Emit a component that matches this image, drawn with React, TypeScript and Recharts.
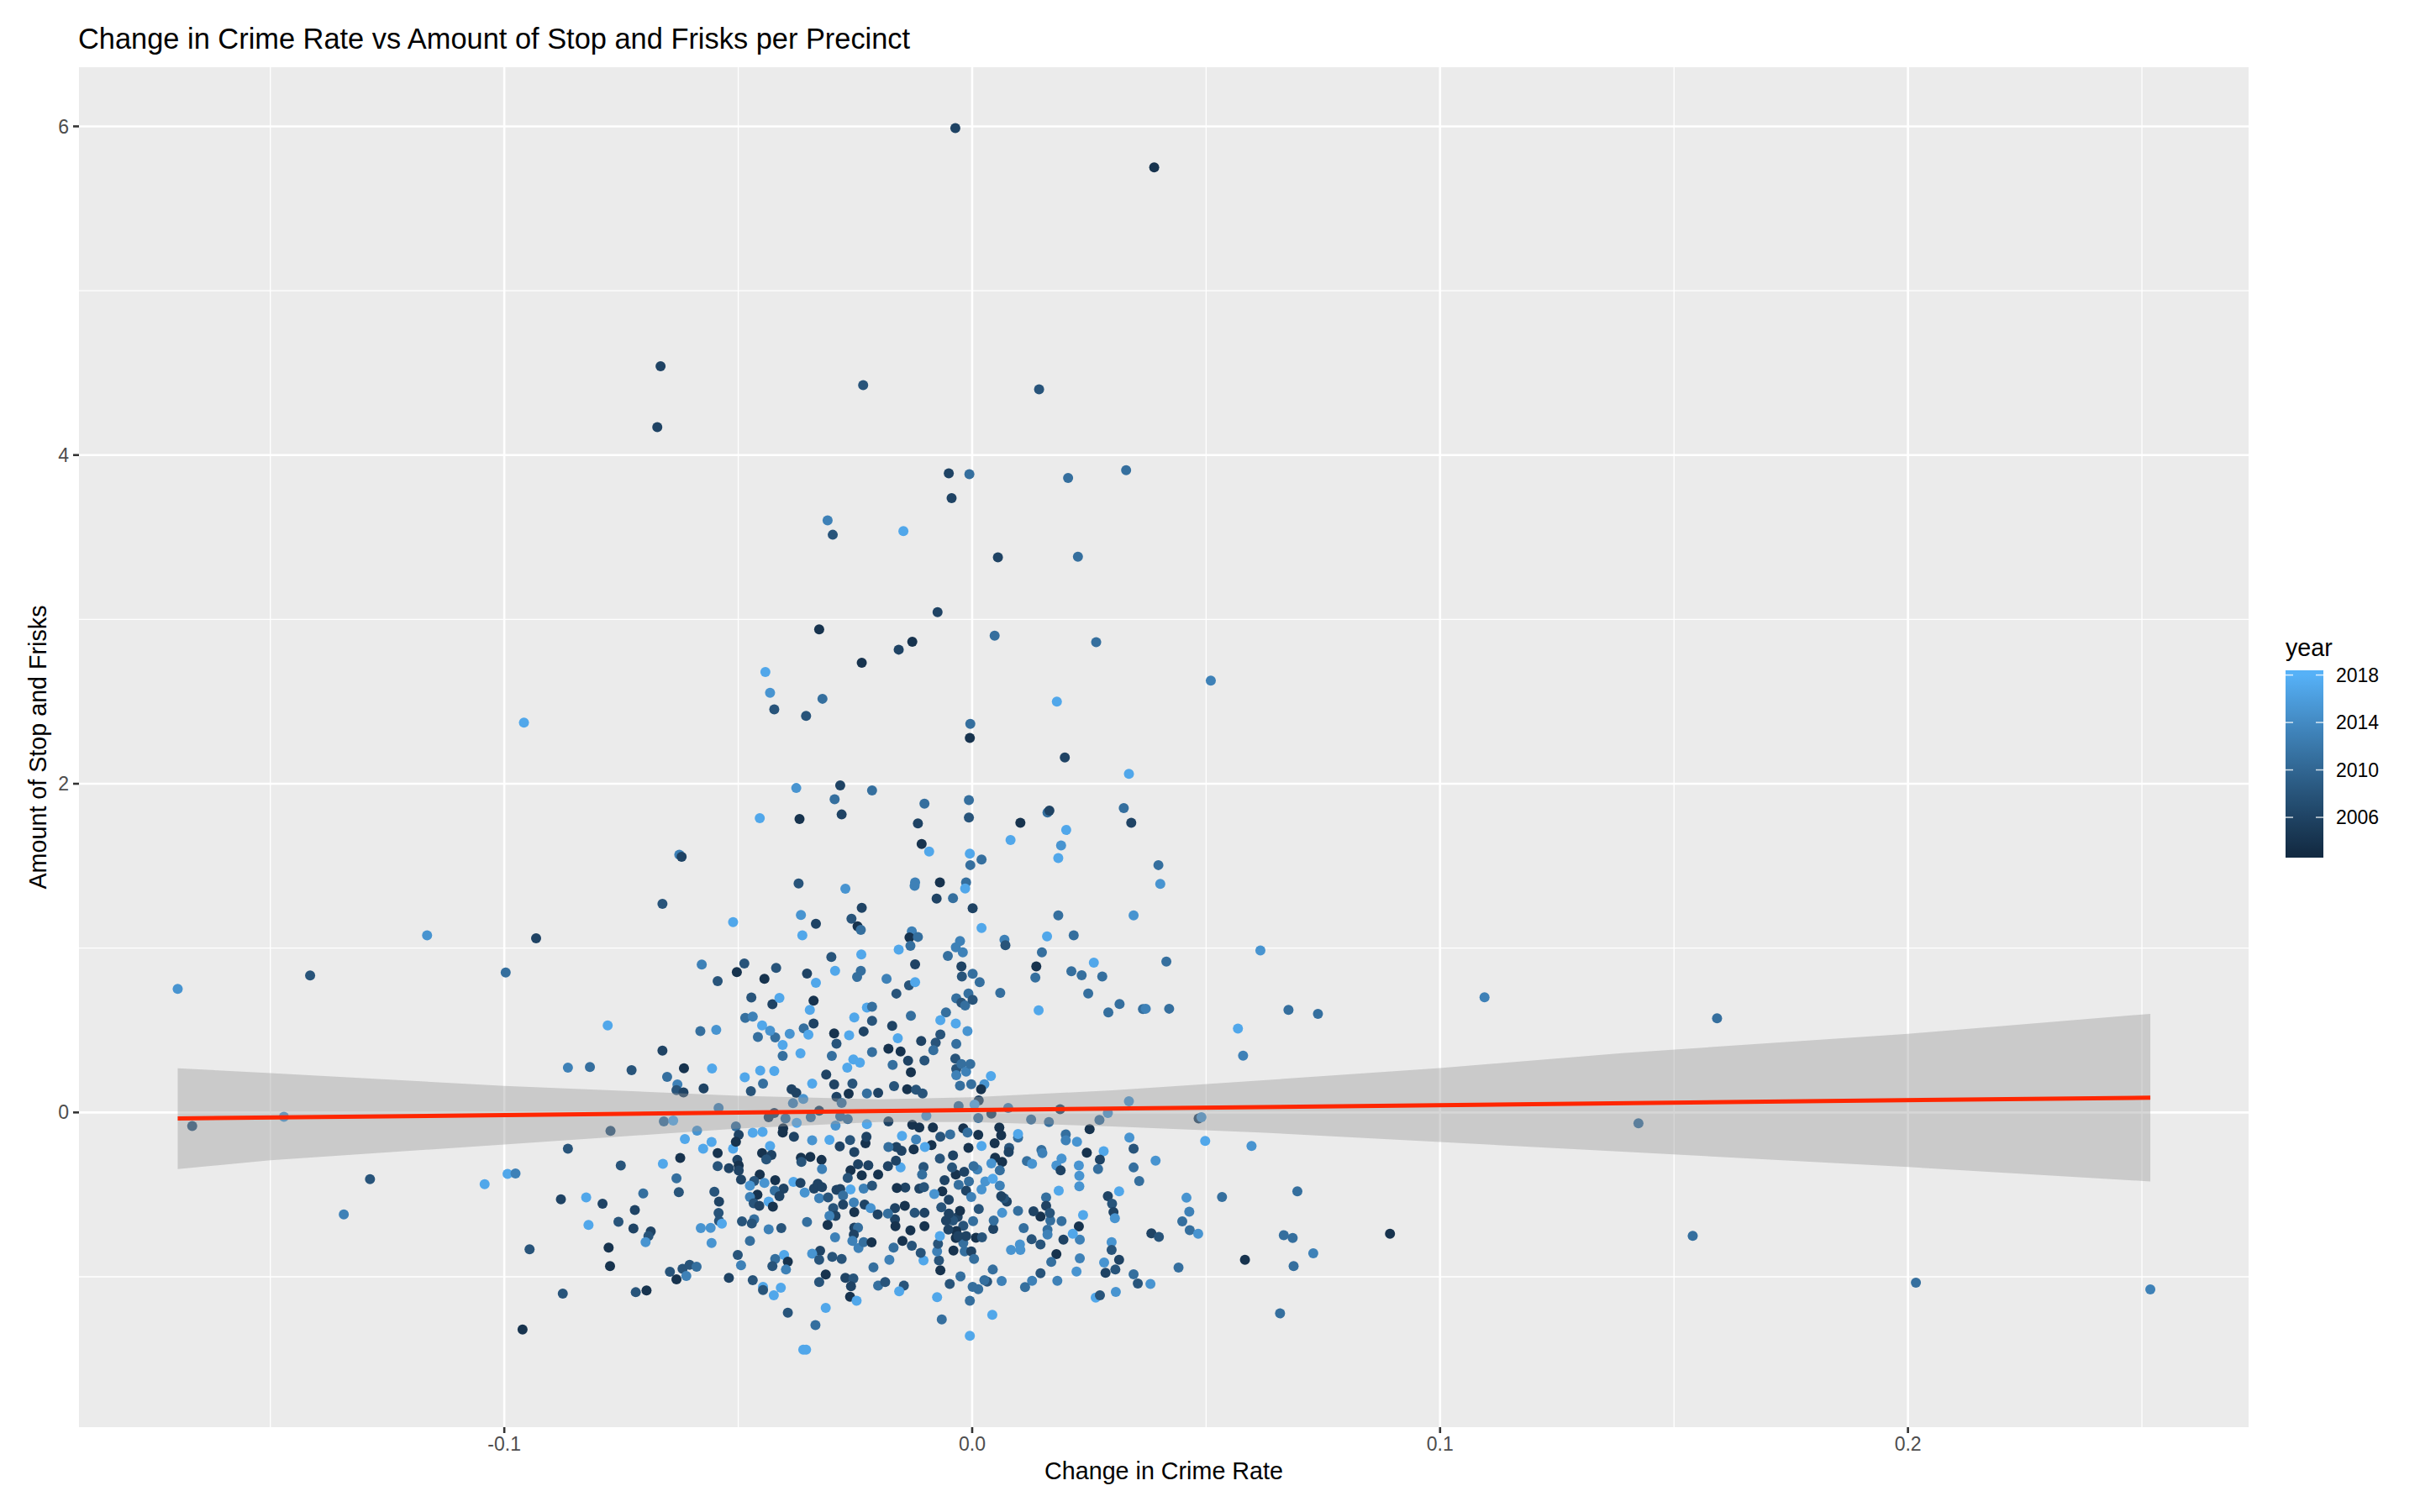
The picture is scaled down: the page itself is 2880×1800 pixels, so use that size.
import React from 'react';
import { ComposedChart, Scatter, Area, Line, XAxis, YAxis, CartesianGrid } from 'recharts';

const FONT = '"Liberation Sans", Arial, Helvetica, sans-serif';

const xTicks = [-0.1, 0, 0.1, 0.2];
const xMinor = [-0.15, -0.05, 0.05, 0.15, 0.25];
const yTicks = [0, 2, 4, 6];
const yMinor = [-1, 1, 3, 5];
const xDomain = [-0.1909, 0.2728];
const yDomain = [-1.915, 6.36];
const yearTicks = [2006, 2010, 2014, 2018];
const yearRange = [2003, 2018];

// [change in crime rate, amount of stop and frisks, year]
const points: [number, number, number][] = [
  [-0.0036,5.99,2006],[0.0389,5.75,2004],[-0.0666,4.54,2006],[-0.0673,4.17,2006],[-0.0233,4.425,2008],[0.0143,4.40,2008],
  [-0.0050,3.889,2006],[-0.0006,3.884,2011],[-0.0044,3.738,2006],[0.0205,3.861,2011],[0.0329,3.908,2011],[-0.0309,3.602,2013],
  [-0.0298,3.515,2008],[-0.0147,3.537,2017],[0.0055,3.378,2006],[0.0226,3.381,2011],[-0.0074,3.044,2006],
  [-0.0157,2.816,2006],[-0.0128,2.864,2004],[0.0048,2.901,2011],[0.0265,2.861,2011],[0.0510,2.628,2013],[0.0181,2.500,2017],
  [-0.0004,2.364,2011],[-0.0005,2.279,2004],[0.0198,2.160,2006],[0.0335,2.060,2017],[-0.0102,1.879,2011],[-0.0007,1.901,2011],
  [-0.0007,1.794,2008],[-0.0116,1.759,2006],[-0.0108,1.634,2004],[-0.0092,1.587,2017],[-0.0005,1.575,2017],[-0.0004,1.505,2011],
  [0.0020,1.539,2011],[0.0082,1.658,2017],[0.0103,1.762,2004],[0.0161,1.825,2011],[0.0165,1.837,2006],[0.0201,1.719,2017],
  [0.0190,1.624,2015],[0.0184,1.548,2017],[0.0324,1.852,2011],[0.0340,1.762,2006],[0.0398,1.505,2011],[0.0402,1.391,2015],
  [0.0345,1.199,2015],[0.0184,1.199,2011],[0.0217,1.077,2011],[0.0160,1.071,2017],[0.0020,1.122,2017],[0.0069,1.051,2013],
  [0.0071,1.017,2008],[0.0149,0.974,2011],[0.0137,0.889,2004],[0.0135,0.821,2011],[0.0212,0.859,2011],[0.0234,0.835,2011],
  [0.0278,0.827,2011],[0.0260,0.912,2017],[0.0415,0.918,2011],[0.0616,0.986,2015],[-0.0122,1.400,2013],[-0.0123,1.379,2013],
  [-0.0069,1.400,2004],[-0.0013,1.400,2011],[-0.0015,1.362,2017],[-0.0076,1.301,2006],[-0.0041,1.304,2011],[0.0001,1.243,2006],
  [-0.0129,1.102,2013],[-0.0134,1.065,2004],[-0.0116,1.068,2011],[-0.0157,0.991,2017],[-0.0132,1.014,2011],[-0.0026,1.043,2013],
  [-0.0035,1.005,2013],[-0.0020,0.974,2013],[-0.0052,0.952,2011],[-0.0122,0.901,2006],[-0.0023,0.889,2006],[-0.0183,0.813,2013],
  [-0.0135,0.774,2008],[-0.0122,0.793,2017],[-0.0022,0.827,2008],[0.0001,0.844,2011],[0.0016,0.793,2011],
  [-0.0958,2.372,2017],[-0.0327,2.939,2004],[-0.0236,2.736,2004],[-0.0442,2.680,2017],[-0.0432,2.554,2015],[-0.0423,2.452,2008],
  [-0.0355,2.413,2008],[-0.0320,2.517,2011],[-0.0376,1.974,2015],[-0.0282,1.990,2006],[-0.0214,1.959,2011],[-0.0294,1.906,2011],
  [-0.0279,1.813,2006],[-0.0454,1.791,2017],[-0.0369,1.786,2004],[-0.0626,1.568,2013],[-0.0621,1.556,2006],[-0.0371,1.393,2008],
  [-0.0271,1.361,2015],[-0.0662,1.269,2008],[-0.0511,1.158,2017],[-0.0366,1.202,2015],[-0.0236,1.245,2006],[-0.0334,1.148,2006],
  [-0.0258,1.179,2008],[-0.0245,1.133,2004],[-0.0238,1.111,2011],[-0.0363,1.077,2017],[-0.0932,1.060,2006],[-0.0301,0.946,2008],
  [-0.0237,0.961,2017],[-0.0578,0.900,2013],[-0.0544,0.799,2008],[-0.0503,0.854,2004],[-0.0487,0.906,2008],[-0.0444,0.813,2004],
  [-0.0419,0.879,2008],[-0.0353,0.845,2006],[-0.0334,0.789,2017],[-0.0293,0.862,2017],[-0.0238,0.862,2011],[-0.0246,0.825,2011],
  [-0.0997,0.852,2011],
  [-0.0779,0.529,2017],[-0.0864,0.272,2013],[-0.0817,0.276,2011],[-0.0728,0.257,2008],[-0.0662,0.376,2006],[-0.0616,0.269,2004],
  [-0.0556,0.267,2017],[-0.0581,0.495,2011],[-0.0547,0.502,2015],[-0.0652,0.216,2011],[-0.0630,0.170,2013],[-0.0632,0.136,2008],
  [-0.0617,0.122,2006],[-0.0574,0.146,2006],[-0.0542,0.027,2013],[-0.0659,-0.054,2011],[-0.0639,-0.049,2017],[-0.0773,-0.112,2008],
  [-0.0588,-0.111,2015],[-0.0614,-0.162,2017],[-0.0557,-0.180,2017],[-0.0575,-0.221,2017],[-0.0864,-0.221,2008],[-0.0661,-0.313,2017],
  [-0.0624,-0.277,2004],[-0.0751,-0.323,2008],[-0.0993,-0.374,2017],[-0.0976,-0.371,2013],[-0.0632,-0.401,2011],[-0.0627,-0.485,2008],
  [-0.0703,-0.493,2011],[-0.0879,-0.529,2006],[-0.0825,-0.517,2017],[-0.0790,-0.556,2006],[-0.0721,-0.594,2006],[-0.0756,-0.665,2008],
  [-0.0724,-0.706,2006],[-0.0820,-0.684,2017],[-0.0946,-0.833,2008],[-0.0777,-0.823,2004],[-0.0774,-0.935,2004],[-0.0687,-0.724,2006],
  [-0.0692,-0.752,2008],[-0.0698,-0.789,2015],[-0.0875,-1.102,2008],[-0.0961,-1.321,2004],[-0.0719,-1.094,2008],[-0.0696,-1.083,2004],
  [-0.0646,-0.969,2008],[-0.0632,-1.015,2004],[-0.0619,-0.951,2008],[-0.0611,-0.995,2013],[-0.0604,-0.927,2008],[-0.0589,-0.939,2011],
  [-0.0544,-0.247,2004],[-0.0544,-0.327,2008],[-0.0551,-0.483,2008],[-0.0541,-0.543,2006],[-0.0542,-0.612,2008],[-0.0541,-0.660,2008],
  [-0.0535,-0.677,2017],[-0.0580,-0.704,2015],[-0.0559,-0.702,2015],[-0.0557,-0.794,2015],[-0.0511,-0.221,2017],[-0.0505,-0.085,2011],
  [-0.0499,-0.136,2006],[-0.0505,-0.179,2004],[-0.0520,-0.340,2006],[-0.0502,-0.289,2006],[-0.0499,-0.323,2004],[-0.0499,-0.354,2006],
  [-0.0494,-0.408,2006],[-0.0492,-0.663,2008],[-0.0475,-0.782,2011],[-0.0501,-0.867,2008],[-0.0494,-0.930,2013],[-0.0520,-1.007,2006],
  [-0.0469,-1.020,2008],[-0.0472,0.699,2008],[-0.0427,0.658,2006],[-0.0412,0.697,2017],[-0.0485,0.575,2011],[-0.0469,0.583,2013],
  [-0.0449,0.529,2017],[-0.0458,0.459,2011],[-0.0421,0.456,2011],[-0.0432,0.497,2015],[-0.0405,0.410,2017],[-0.0390,0.478,2015],
  [-0.0405,0.344,2011],[-0.0367,0.359,2017],[-0.0360,0.512,2011],[-0.0350,0.473,2017],[-0.0347,0.624,2017],[-0.0339,0.680,2004],
  [-0.0339,0.541,2006],[-0.0295,0.481,2004],[-0.0290,0.418,2008],[-0.0300,0.344,2011],[-0.0263,0.469,2017],[-0.0252,0.578,2017],
  [-0.0225,0.638,2017],[-0.0214,0.643,2011],[-0.0214,0.558,2008],[-0.0232,0.493,2006],[-0.0254,0.323,2017],[-0.0240,0.303,2017],
  [-0.0267,0.272,2017],[-0.0214,0.367,2011],[-0.0486,0.214,2017],[-0.0453,0.255,2017],[-0.0423,0.252,2017],[-0.0447,0.175,2011],
  [-0.0473,0.129,2008],[-0.0312,0.230,2006],[-0.0295,0.170,2006],[-0.0342,0.175,2017],[-0.0256,0.175,2008],[-0.0264,0.114,2004],
  [-0.0290,0.095,2006],[-0.0386,0.141,2006],[-0.0376,0.119,2006],[-0.0361,0.082,2015],[-0.0383,0.056,2013],[-0.0225,0.116,2011],
  [-0.0201,0.119,2006],[-0.0279,0.058,2011],[-0.0423,-0.003,2006],[-0.0435,-0.029,2006],[-0.0399,-0.037,2011],[-0.0375,-0.063,2017],
  [-0.0345,-0.029,2011],[-0.0327,0.010,2006],[-0.0282,-0.024,2011],[-0.0266,-0.041,2011],[-0.0292,-0.080,2015],[-0.0225,-0.071,2017],
  [-0.0469,-0.124,2017],[-0.0448,-0.119,2017],[-0.0404,-0.097,2004],[-0.0405,-0.122,2004],[-0.0381,-0.148,2006],[-0.0342,-0.170,2015],
  [-0.0305,-0.167,2017],[-0.0283,-0.207,2006],[-0.0261,-0.168,2008],[-0.0228,-0.187,2004],[-0.0226,-0.148,2006],[-0.0252,-0.241,2006],
  [-0.0432,-0.204,2017],[-0.0449,-0.247,2004],[-0.0429,-0.259,2006],[-0.0440,-0.286,2008],[-0.0366,-0.276,2004],[-0.0346,-0.270,2004],
  [-0.0365,-0.301,2008],[-0.0322,-0.289,2004],[-0.0321,-0.345,2013],[-0.0260,-0.352,2004],[-0.0244,-0.315,2006],[-0.0222,-0.321,2006],
  [-0.0236,-0.383,2004],[-0.0266,-0.398,2008],[-0.0201,-0.378,2004],[-0.0454,-0.378,2004],[-0.0466,-0.417,2008],[-0.0475,-0.446,2015],
  [-0.0444,-0.429,2015],[-0.0421,-0.412,2004],[-0.0403,-0.463,2006],[-0.0422,-0.476,2011],[-0.0412,-0.510,2006],[-0.0382,-0.423,2017],
  [-0.0367,-0.429,2006],[-0.0358,-0.488,2015],[-0.0338,-0.463,2006],[-0.0330,-0.434,2006],[-0.0321,-0.454,2006],[-0.0327,-0.522,2013],
  [-0.0308,-0.517,2008],[-0.0290,-0.471,2006],[-0.0282,-0.466,2006],[-0.0260,-0.468,2017],[-0.0276,-0.505,2011],[-0.0232,-0.463,2013],
  [-0.0214,-0.446,2008],[-0.0459,-0.500,2004],[-0.0475,-0.514,2013],[-0.0467,-0.553,2008],[-0.0455,-0.568,2006],[-0.0435,-0.543,2017],
  [-0.0426,-0.573,2004],[-0.0297,-0.582,2008],[-0.0276,-0.561,2006],[-0.0253,-0.548,2013],[-0.0230,-0.560,2006],[-0.0217,-0.582,2015],
  [-0.0252,-0.607,2004],[-0.0292,-0.629,2006],[-0.0305,-0.629,2013],[-0.0202,-0.621,2006],[-0.0466,-0.650,2011],[-0.0471,-0.675,2008],
  [-0.0435,-0.711,2013],[-0.0408,-0.704,2008],[-0.0353,-0.667,2011],[-0.0309,-0.684,2004],[-0.0252,-0.701,2006],[-0.0244,-0.701,2011],
  [-0.0253,-0.743,2006],[-0.0256,-0.782,2013],[-0.0243,-0.825,2013],[-0.0232,-0.789,2011],[-0.0215,-0.791,2004],[-0.0293,-0.760,2013],
  [-0.0325,-0.842,2006],[-0.0342,-0.859,2015],[-0.0327,-0.896,2008],[-0.0299,-0.879,2008],[-0.0279,-0.891,2008],[-0.0402,-0.867,2017],
  [-0.0421,-0.891,2011],[-0.0394,-0.908,2004],[-0.0427,-0.935,2008],[-0.0398,-0.956,2013],[-0.0211,-0.942,2011],[-0.0313,-0.986,2004],
  [-0.0327,-1.032,2008],[-0.0271,-1.007,2006],[-0.0254,-1.010,2008],[-0.0259,-1.058,2006],[-0.0201,-1.054,2011],[-0.0261,-1.122,2004],
  [-0.0247,-1.146,2017],[-0.0447,-1.061,2017],[-0.0447,-1.080,2008],[-0.0409,-1.066,2017],[-0.0424,-1.112,2017],[-0.0313,-1.189,2017],
  [-0.0394,-1.219,2008],[-0.0335,-1.294,2011],[-0.0361,-1.444,2017],[-0.0355,-1.444,2017],
  [-0.0162,0.723,2008],[-0.0131,0.588,2011],[-0.0034,0.694,2011],[-0.0023,0.668,2008],[-0.0015,0.651,2011],[-0.0008,0.724,2011],
  [0.0001,0.685,2008],[0.0060,0.728,2011],[0.0248,0.724,2011],[0.0142,0.621,2017],[0.0291,0.609,2011],[0.0315,0.660,2011],
  [0.0365,0.629,2011],[0.0371,0.631,2013],[0.0421,0.631,2011],[0.0568,0.510,2017],[0.0579,0.345,2013],[-0.0056,0.609,2011],
  [-0.0068,0.561,2017],[-0.0035,0.541,2017],[-0.0010,0.495,2015],[-0.0068,0.474,2008],[-0.0078,0.425,2008],[-0.0083,0.379,2011],
  [-0.0109,0.435,2006],[-0.0171,0.527,2006],[-0.0159,0.451,2017],[-0.0179,0.388,2004],[-0.0153,0.371,2004],[-0.0137,0.315,2006],
  [-0.0102,0.316,2008],[-0.0131,0.245,2004],[-0.0170,0.289,2011],[-0.0167,0.160,2008],[-0.0139,0.141,2004],[-0.0120,0.139,2008],
  [-0.0106,0.116,2008],[-0.0034,0.417,2011],[-0.0036,0.328,2008],[-0.0034,0.265,2008],[-0.0023,0.294,2011],[-0.0034,0.226,2013],
  [-0.0013,0.248,2013],[-0.0004,0.294,2011],[-0.0026,0.163,2011],[-0.0002,0.172,2011],[0.0026,0.172,2015],[0.0040,0.221,2017],
  [0.0019,0.141,2004],[0.0014,0.073,2006],[-0.0029,0.039,2011],[0.0005,0.048,2017],[0.0041,-0.007,2006],[0.0013,-0.034,2011],
  [0.0077,0.027,2013],[0.0126,-0.043,2011],[0.0164,-0.058,2011],[0.0188,0.019,2006],[0.0272,-0.046,2011],[0.0290,-0.003,2015],
  [0.0335,0.068,2015],[0.0484,-0.037,2006],[0.0490,-0.029,2015],[-0.0098,-0.020,2015],[-0.0179,-0.054,2006],[-0.0128,-0.075,2004],
  [-0.0113,-0.092,2004],[-0.0084,-0.092,2004],[-0.0019,-0.097,2004],[-0.0010,-0.122,2011],[0.0013,-0.136,2004],[0.0058,-0.092,2004],
  [0.0062,-0.139,2004],[0.0098,-0.153,2011],[0.0098,-0.131,2017],[0.0251,-0.102,2004],[-0.0150,-0.143,2017],[-0.0120,-0.165,2013],
  [-0.0068,-0.148,2008],[-0.0047,-0.134,2011],[-0.0087,-0.199,2004],[-0.0101,-0.211,2017],[-0.0125,-0.224,2004],[-0.0151,-0.233,2006],
  [-0.0162,-0.211,2006],[-0.0179,-0.211,2011],[-0.0008,-0.216,2004],[0.0020,-0.204,2017],[0.0048,-0.187,2004],[0.0079,-0.216,2008],
  [0.0078,-0.241,2006],[0.0049,-0.276,2004],[0.0064,-0.301,2004],[0.0148,-0.228,2011],[0.0150,-0.247,2013],[0.0200,-0.134,2011],
  [0.0200,-0.170,2013],[0.0224,-0.179,2015],[0.0281,-0.236,2017],[0.0245,-0.245,2004],[0.0273,-0.287,2006],[0.0269,-0.344,2011],
  [0.0191,-0.281,2015],[0.0180,-0.323,2015],[0.0189,-0.352,2006],[0.0228,-0.323,2015],[0.0229,-0.386,2015],[0.0229,-0.449,2015],
  [0.0185,-0.476,2017],[0.0117,-0.296,2011],[0.0128,-0.313,2015],[0.0336,-0.153,2015],[0.0345,-0.221,2008],[0.0345,-0.335,2011],
  [0.0357,-0.417,2011],[0.0392,-0.293,2015],[0.0498,-0.173,2017],[0.0597,-0.204,2015],[0.0314,-0.480,2017],[0.0290,-0.509,2006],
  [0.0299,-0.556,2008],[0.0302,-0.607,2006],[0.0305,-0.643,2015],[0.0458,-0.519,2015],[0.0534,-0.514,2011],[0.0464,-0.604,2013],
  [0.0449,-0.663,2011],[0.0465,-0.716,2011],[0.0483,-0.738,2015],[0.0383,-0.735,2006],[0.0399,-0.757,2008],[0.0583,-0.896,2004],
  [0.0441,-0.944,2011],[0.0345,-0.985,2011],[0.0354,-1.041,2008],[0.0381,-1.044,2015],[0.0298,-0.789,2015],[0.0298,-0.837,2008],
  [0.0314,-0.896,2006],[0.0306,-0.956,2008],[0.0282,-0.913,2015],[0.0285,-0.976,2006],[0.0307,-1.092,2015],[0.0264,-1.126,2017],
  [0.0273,-1.112,2008],[0.0230,-0.774,2013],[0.0228,-0.694,2004],[0.0237,-0.624,2017],[0.0230,-0.888,2013],[0.0223,-0.968,2015],
  [0.0215,-0.738,2017],[0.0195,-0.774,2006],[0.0191,-0.662,2011],[0.0180,-0.862,2004],[0.0169,-0.910,2011],[0.0158,-0.517,2011],
  [0.0158,-0.568,2006],[0.0167,-0.658,2011],[0.0146,-0.633,2004],[0.0131,-0.602,2006],[0.0161,-0.714,2011],[0.0161,-0.743,2013],
  [0.0146,-0.803,2008],[0.0127,-0.772,2008],[0.0110,-0.704,2011],[0.0098,-0.599,2011],[0.0083,-0.837,2015],[0.0102,-0.803,2015],
  [0.0103,-0.837,2015],[0.0146,-0.978,2008],[0.0128,-1.024,2013],[0.0113,-1.063,2011],[0.0182,-1.024,2013],[0.0063,-1.026,2013],
  [0.0044,-0.956,2011],[0.0032,-1.029,2008],[0.0026,-1.020,2011],[0.0013,-1.075,2011],[0.0001,-1.061,2011],[-0.0025,-0.998,2011],
  [-0.0048,-1.043,2008],[-0.0005,-1.146,2011],[0.0043,-1.231,2017],[-0.0005,-1.359,2017],[-0.0065,-1.259,2011],[-0.0075,-1.124,2017],
  [-0.0146,-1.054,2008],[-0.0156,-1.088,2017],[-0.0186,-1.032,2008],[-0.0068,-0.961,2004],[-0.0071,-0.900,2008],[-0.0075,-0.845,2013],
  [-0.0073,-0.799,2008],[-0.0069,-0.752,2017],[-0.0104,-0.900,2017],[-0.0110,-0.854,2008],[-0.0129,-0.811,2008],[-0.0149,-0.782,2004],
  [-0.0168,-0.823,2011],[-0.0177,-0.896,2013],[-0.0040,-0.840,2004],[-0.0016,-0.845,2011],[-0.0002,-0.845,2006],[0.0004,-0.891,2011],
  [-0.0019,-0.794,2011],[-0.0035,-0.764,2004],[-0.0013,-0.752,2006],[0.0008,-0.762,2004],[0.0021,-0.760,2008],[0.0045,-0.709,2006],
  [0.0046,-0.658,2011],[0.0064,-0.611,2015],[0.0074,-0.543,2006],[0.0068,-0.522,2008],[0.0062,-0.510,2006],[0.0059,-0.446,2013],
  [0.0028,-0.420,2015],[0.0044,-0.403,2017],[0.0020,-0.468,2015],[0.0059,-0.352,2011],[0.0041,-0.310,2015],[0.0011,-0.347,2013],
  [0.0003,-0.327,2011],[-0.0007,-0.420,2011],[-0.0013,-0.476,2006],[-0.0002,-0.514,2013],[0.0014,-0.587,2008],[0.0002,-0.662,2011],
  [-0.0019,-0.689,2008],[-0.0034,-0.721,2004],[-0.0031,-0.636,2006],[-0.0026,-0.599,2004],[-0.0041,-0.658,2008],[-0.0056,-0.658,2006],
  [-0.0050,-0.616,2006],[-0.0066,-0.577,2008],[-0.0050,-0.531,2006],[-0.0064,-0.480,2004],[-0.0081,-0.497,2015],[-0.0059,-0.412,2006],
  [-0.0029,-0.440,2011],[-0.0035,-0.378,2004],[-0.0043,-0.335,2008],[-0.0017,-0.361,2006],[-0.0069,-0.281,2008],[-0.0041,-0.262,2006],
  [-0.0104,-0.332,2008],[-0.0107,-0.378,2011],[-0.0113,-0.463,2006],[-0.0103,-0.454,2008],[-0.0143,-0.457,2006],[-0.0161,-0.459,2004],
  [-0.0153,-0.335,2017],[-0.0163,-0.293,2006],[-0.0180,-0.327,2006],[-0.0144,-0.568,2004],[-0.0165,-0.582,2006],[-0.0165,-0.650,2006],
  [-0.0180,-0.616,2011],[-0.0164,-0.692,2004],[-0.0132,-0.718,2004],[-0.0102,-0.692,2004],[-0.0123,-0.611,2008],[-0.0102,-0.611,2006],
  [-0.0051,-0.713,2006],[-0.0030,-0.752,2006],[0.0166,-0.612,2008],
  [0.0676,0.624,2011],[0.0739,0.600,2011],[0.1095,0.701,2013],[0.0695,-0.480,2011],[0.0666,-0.747,2011],[0.0685,-0.764,2011],
  [0.0729,-0.857,2013],[0.0687,-0.935,2011],[0.0893,-0.738,2004],[0.0658,-1.223,2011],
  [-0.1698,0.752,2015],[-0.1667,-0.083,2008],[-0.1471,-0.026,2015],[-0.1415,0.833,2008],[-0.1165,1.078,2015],[-0.1287,-0.406,2008],
  [-0.1343,-0.621,2013],[-0.1042,-0.437,2017],
  [0.1424,-0.066,2011],[0.1592,0.573,2011],[0.1540,-0.751,2011],[0.2017,-1.036,2011],[0.2518,-1.077,2013],
];

// linear fit (geom_smooth method = lm)
const fitX = [-0.1698, 0.2518];
const fitY = [-0.037, 0.09];
// confidence ribbon
const bandX = [-0.1698, -0.15, -0.1, -0.05, -0.02, 0, 0.03, 0.0616, 0.1, 0.1389, 0.2, 0.2518];
const bandLow = [-0.344, -0.291, -0.195, -0.098, -0.058, -0.058, -0.085, -0.122, -0.18, -0.238, -0.332, -0.42];
const bandHigh = [0.269, 0.239, 0.162, 0.102, 0.080, 0.092, 0.135, 0.195, 0.27, 0.361, 0.478, 0.60];

// ---- colour scale (ggplot2 default continuous gradient, Lab interpolation)
const LOW = '#132B43';
const HIGH = '#56B1F7';
function hexToRgb(h: string) {
  return [parseInt(h.slice(1, 3), 16), parseInt(h.slice(3, 5), 16), parseInt(h.slice(5, 7), 16)];
}
function toLin(c: number) { c /= 255; return c <= 0.04045 ? c / 12.92 : Math.pow((c + 0.055) / 1.055, 2.4); }
function fromLin(c: number) {
  const v = c <= 0.0031308 ? 12.92 * c : 1.055 * Math.pow(c, 1 / 2.4) - 0.055;
  return Math.round(Math.max(0, Math.min(1, v)) * 255);
}
const XN = 0.95047, YN = 1, ZN = 1.08883;
function fLab(t: number) { return t > 0.008856 ? Math.cbrt(t) : 7.787 * t + 16 / 116; }
function fInv(t: number) { return t * t * t > 0.008856 ? t * t * t : (t - 16 / 116) / 7.787; }
function rgbToLab(rgb: number[]) {
  const [r, g, b] = rgb.map(toLin);
  const X = 0.4124564 * r + 0.3575761 * g + 0.1804375 * b;
  const Y = 0.2126729 * r + 0.7151522 * g + 0.072175 * b;
  const Z = 0.0193339 * r + 0.119192 * g + 0.9503041 * b;
  const fx = fLab(X / XN), fy = fLab(Y / YN), fz = fLab(Z / ZN);
  return [116 * fy - 16, 500 * (fx - fy), 200 * (fy - fz)];
}
function labToHex(lab: number[]) {
  const fy = (lab[0] + 16) / 116;
  const fx = fy + lab[1] / 500;
  const fz = fy - lab[2] / 200;
  const X = XN * fInv(fx), Y = YN * fInv(fy), Z = ZN * fInv(fz);
  const r = 3.2404542 * X - 1.5371385 * Y - 0.4985314 * Z;
  const g = -0.969266 * X + 1.8760108 * Y + 0.041556 * Z;
  const b = 0.0556434 * X - 0.2040259 * Y + 1.0572252 * Z;
  return '#' + [r, g, b].map((c) => fromLin(c).toString(16).padStart(2, '0')).join('');
}
const LAB_LOW = rgbToLab(hexToRgb(LOW));
const LAB_HIGH = rgbToLab(hexToRgb(HIGH));
function yearColor(year: number) {
  const t = Math.max(0, Math.min(1, (year - yearRange[0]) / (yearRange[1] - yearRange[0])));
  return labToHex(LAB_LOW.map((v, i) => v + (LAB_HIGH[i] - v) * t));
}

const scatterData = points.map(([x, y, year]) => ({ x, y, year }));
const fitData = fitX.map((x, i) => ({ x, fit: fitY[i] }));
const bandData = bandX.map((x, i) => ({ x, band: [bandLow[i], bandHigh[i]] }));

function Dot(props: any) {
  const { cx, cy, payload } = props;
  if (cx == null || cy == null) return null;
  return <circle cx={cx} cy={cy} r={6} fill={yearColor(payload.year)} />;
}

// legend geometry
const BAR_X = 2720, BAR_W = 45, BAR_TOP = 798, BAR_BOTTOM = 1021;
const LIM_TOP = 803.6, LIM_BOTTOM = 1015.4;
function yearPos(y: number) {
  return LIM_BOTTOM - ((y - yearRange[0]) / (yearRange[1] - yearRange[0])) * (LIM_BOTTOM - LIM_TOP);
}

const TITLE_SIZE = 34.4;
const AXIS_TITLE_SIZE = 28.7;
const TICK_SIZE = 23;
const tickStyle = { fontSize: TICK_SIZE, fill: '#4D4D4D', fontFamily: FONT };

export default function App() {
  const gradStops = [];
  for (let y = yearRange[0]; y <= yearRange[1]; y++) {
    gradStops.push(
      <stop key={y} offset={(y - yearRange[0]) / (yearRange[1] - yearRange[0])} stopColor={yearColor(y)} />
    );
  }
  return (
    <div style={{ position: 'absolute', left: 0, top: 0, width: 2880, height: 1800, background: '#FFFFFF', fontFamily: FONT }}>
      <ComposedChart width={2880} height={1800} margin={{ top: 80, right: 204, bottom: 41, left: 34 }}>
        <CartesianGrid
          fill="#EBEBEB"
          stroke="#FFFFFF"
          strokeWidth={1.3}
          horizontalValues={yMinor}
          verticalValues={xMinor}
        />
        <CartesianGrid
          stroke="#FFFFFF"
          strokeWidth={2.6}
          horizontalValues={yTicks}
          verticalValues={xTicks}
        />
        <XAxis
          dataKey="x"
          type="number"
          domain={xDomain}
          allowDataOverflow
          ticks={xTicks}
          tickFormatter={(v: number) => v.toFixed(1)}
          axisLine={false}
          tickLine={{ stroke: '#333333', strokeWidth: 2.6 }}
          tickSize={7}
          tickMargin={5}
          height={60}
          tick={tickStyle}
          interval={0}
        />
        <YAxis
          dataKey="y"
          type="number"
          domain={yDomain}
          allowDataOverflow
          ticks={yTicks}
          tickFormatter={(v: number) => String(v)}
          axisLine={false}
          tickLine={{ stroke: '#333333', strokeWidth: 2.6 }}
          tickSize={7}
          tickMargin={5}
          width={60}
          tick={tickStyle}
          interval={0}
        />
        <Scatter data={scatterData} shape={<Dot />} isAnimationActive={false} zIndex={600} />
        <Area
          data={bandData}
          dataKey="band"
          type="linear"
          fill="#999999"
          fillOpacity={0.4}
          stroke="none"
          isAnimationActive={false}
          activeDot={false}
          dot={false}
          zIndex={650}
        />
        <Line
          data={fitData}
          dataKey="fit"
          type="linear"
          stroke="#FF2600"
          strokeWidth={5}
          dot={false}
          activeDot={false}
          isAnimationActive={false}
          zIndex={700}
        />
      </ComposedChart>
      <svg
        width={2880}
        height={1800}
        style={{ position: 'absolute', left: 0, top: 0, pointerEvents: 'none' }}
      >
        <text x={93} y={58} fontSize={TITLE_SIZE} fill="#000000" fontFamily={FONT}>
          Change in Crime Rate vs Amount of Stop and Frisks per Precinct
        </text>
        <text x={1385} y={1761} fontSize={AXIS_TITLE_SIZE} fill="#000000" fontFamily={FONT} textAnchor="middle">
          Change in Crime Rate
        </text>
        <text
          x={55}
          y={889.5}
          fontSize={AXIS_TITLE_SIZE}
          fill="#000000"
          fontFamily={FONT}
          textAnchor="middle"
          transform="rotate(-90 55 889.5)"
        >
          Amount of Stop and Frisks
        </text>
        <defs>
          <linearGradient id="yearGrad" gradientUnits="userSpaceOnUse" x1={0} y1={LIM_BOTTOM} x2={0} y2={LIM_TOP}>
            {gradStops}
          </linearGradient>
        </defs>
        <text x={BAR_X} y={781} fontSize={AXIS_TITLE_SIZE} fill="#000000" fontFamily={FONT}>
          year
        </text>
        <rect x={BAR_X} y={BAR_TOP} width={BAR_W} height={BAR_BOTTOM - BAR_TOP} fill="url(#yearGrad)" />
        {yearTicks.map((yr) => (
          <g key={yr}>
            <line x1={BAR_X} x2={BAR_X + 9} y1={yearPos(yr)} y2={yearPos(yr)} stroke="#FFFFFF" strokeOpacity={0.8} strokeWidth={1.5} />
            <line x1={BAR_X + BAR_W - 9} x2={BAR_X + BAR_W} y1={yearPos(yr)} y2={yearPos(yr)} stroke="#FFFFFF" strokeOpacity={0.8} strokeWidth={1.5} />
            <text x={2780} y={yearPos(yr)} dy="0.36em" fontSize={TICK_SIZE} fill="#000000" fontFamily={FONT}>
              {yr}
            </text>
          </g>
        ))}
      </svg>
    </div>
  );
}
